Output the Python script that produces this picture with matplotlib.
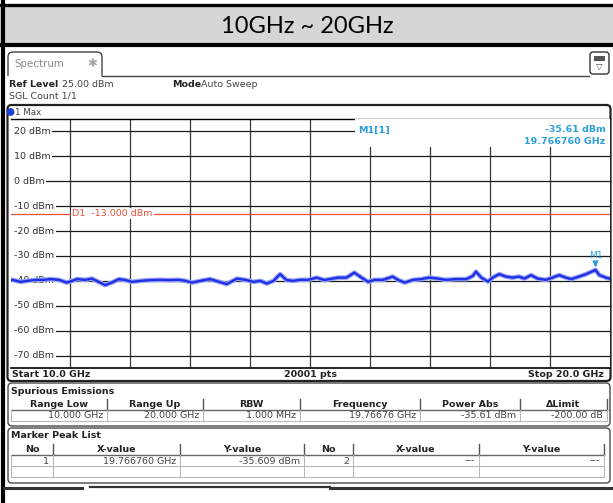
import matplotlib.pyplot as plt
from matplotlib.patches import Rectangle, FancyBboxPatch, Circle

W, H = 613, 503

# max-hold trace, 10-20 GHz sweep
freq_ghz = [
    10.00, 10.03, 10.17, 10.28, 10.42, 10.56, 10.67, 10.81, 10.94, 11.03,
    11.11, 11.25, 11.36, 11.47, 11.58, 11.69, 11.81, 11.92, 12.03, 12.17,
    12.33, 12.50, 12.67, 12.81, 12.92, 13.03, 13.17, 13.33, 13.47, 13.61,
    13.78, 13.92, 14.06, 14.17, 14.28, 14.39, 14.50, 14.61, 14.72, 14.83,
    14.97, 15.11, 15.24, 15.33, 15.47, 15.61, 15.74, 15.86, 15.97, 16.08,
    16.22, 16.38, 16.47, 16.58, 16.72, 16.86, 16.99, 17.11, 17.27, 17.44,
    17.61, 17.72, 17.77, 17.86, 17.97, 18.05, 18.16, 18.27, 18.38, 18.49,
    18.58, 18.69, 18.80, 18.94, 19.05, 19.16, 19.27, 19.36, 19.49, 19.61,
    19.766760, 19.83, 19.94, 20.00,
]
level_dbm = [
    -39.8, -39.6, -40.4, -40.0, -39.6, -39.6, -39.3, -39.6, -40.7, -40.0,
    -39.3, -39.6, -39.1, -40.4, -41.7, -40.7, -39.3, -39.7, -40.4, -40.0,
    -39.7, -39.6, -39.7, -39.6, -40.0, -40.7, -40.0, -39.3, -40.3, -41.3,
    -39.1, -39.6, -40.4, -40.0, -41.1, -40.0, -37.3, -39.7, -40.0, -39.6,
    -39.6, -38.7, -39.7, -39.3, -38.7, -38.7, -36.7, -38.7, -40.4, -39.6,
    -39.6, -38.3, -39.6, -40.7, -39.6, -39.3, -38.7, -39.0, -39.6, -39.3,
    -39.3, -38.0, -36.3, -38.7, -40.3, -38.7, -37.3, -38.3, -38.7, -38.3,
    -39.1, -37.7, -39.1, -39.6, -38.7, -37.7, -38.7, -39.3, -38.3, -37.3,
    -35.609, -37.7, -38.7, -39.1,
]

ref_level_dbm = 25.0
grid_dbm = [20, 10, 0, -10, -20, -30, -40, -50, -60, -70]
limit_dbm = -13.0
marker_freq_ghz = 19.766760
marker_level_dbm = -35.609

spur_headers = ["Range Low", "Range Up", "RBW", "Frequency", "Power Abs", "ΔLimit"]
spur_values = ["10.000 GHz", "20.000 GHz", "1.000 MHz", "19.76676 GHz", "-35.61 dBm", "-200.00 dB"]
peak_headers = ["No", "X-value", "Y-value", "No", "X-value", "Y-value"]
peak_values = ["1", "19.766760 GHz", "-35.609 dBm", "2", "---", "---"]

FS = 6.8
TXT = "#222222"
TRACE = "#1f2fe6"
MARK = "#2b9fdc"
LIMIT = "#e8503c"

fig = plt.figure(figsize=(W / 100, H / 100), dpi=100)
fig.patch.set_facecolor("white")

# page furniture in pixel coordinates (y down)
bg = fig.add_axes([0, 0, 1, 1])
bg.set_xlim(0, W)
bg.set_ylim(H, 0)
bg.axis("off")

bg.add_patch(Rectangle((0, 6), W, 37, color="#d6d6d6", lw=0))
bg.plot([0, W], [4.5, 4.5], color="black", lw=2.4)
bg.plot([0, W], [45, 45], color="black", lw=3.0)
bg.plot([2.5, 2.5], [0, H], color="black", lw=3.0)
bg.text(307, 26, "10GHz ~ 20GHz", ha="center", va="center", fontsize=17,
        family="Lato", color="black")

# tab header
bg.add_patch(FancyBboxPatch((8, 52), 94, 30, boxstyle="round,pad=0,rounding_size=5",
                            fc="white", ec="#444444", lw=1.0))
bg.add_patch(Rectangle((6, 76), 98, 10, color="white", lw=0))
bg.plot([102, 589], [75.5, 75.5], color="#444444", lw=1.0)
bg.text(14, 63.5, "Spectrum", fontsize=7.4, color="#8a8a8a", va="center")
bg.text(92, 63, "✱", fontsize=8.5, color="#a8a8a8", va="center", ha="center")
bg.add_patch(FancyBboxPatch((590, 52), 19, 22, boxstyle="round,pad=0,rounding_size=3",
                            fc="white", ec="#333333", lw=1.0))
bg.add_patch(Rectangle((594, 56), 11, 5, fc="#555555", ec="none"))
bg.text(599.5, 66.5, "▽", fontsize=6, ha="center", va="center", color="#444444")

bg.text(9, 84, "Ref Level", fontsize=FS, weight="bold", color=TXT, va="center")
bg.text(62, 84, "25.00 dBm", fontsize=FS, color="#444444", va="center")
bg.text(172, 84, "Mode", fontsize=FS, weight="bold", color=TXT, va="center")
bg.text(201, 84, "Auto Sweep", fontsize=FS, color="#444444", va="center")
bg.text(9, 96, "SGL Count 1/1", fontsize=FS, color="#444444", va="center")

# diagram frame
bg.add_patch(FancyBboxPatch((7.5, 105), 603, 276, boxstyle="round,pad=0,rounding_size=4",
                            fc="none", ec="#222222", lw=1.6))
bg.add_patch(Circle((10.5, 112), 3.2, color="#1f3fd8"))
bg.text(15, 112.5, "1 Max", fontsize=6.3, color="#444444", va="center")
bg.text(12, 374.5, "Start 10.0 GHz", fontsize=FS, weight="bold", color=TXT, va="center")
bg.text(310, 374.5, "20001 pts", fontsize=FS, weight="bold", color=TXT, va="center", ha="center")
bg.text(604, 374.5, "Stop 20.0 GHz", fontsize=FS, weight="bold", color=TXT, va="center", ha="right")


def draw_table(top, bottom, title, edges, headers, rows):
    bg.add_patch(FancyBboxPatch((8, top), 602, bottom - top, boxstyle="round,pad=0,rounding_size=4",
                                fc="white", ec="#4a4a4a", lw=1.0))
    bg.text(11, top + 8, title, fontsize=FS, weight="bold", color=TXT, va="center")
    h_top = top + 15
    h_bot = h_top + 12
    for i, lab in enumerate(headers):
        bg.text((edges[i] + edges[i + 1]) / 2, (h_top + h_bot) / 2 + 0.5, lab, fontsize=FS,
                weight="bold", color=TXT, ha="center", va="center")
    for x in edges[1:]:
        bg.plot([x, x], [h_top + 1, h_bot], color="#555555", lw=1.0)
    bg.plot([edges[0], edges[-1]], [h_bot, h_bot], color="#666666", lw=1.0)
    y = h_bot
    for vals in rows:
        y2 = y + 11
        bg.plot([edges[0], edges[-1]], [y2, y2], color="#b8b8b8", lw=0.8)
        for x in edges:
            bg.plot([x, x], [y, y2], color="#b8b8b8", lw=0.8)
        for i, v in enumerate(vals):
            bg.text(edges[i + 1] - 4, (y + y2) / 2 + 0.5, v, fontsize=FS, color="#444444",
                    ha="right", va="center")
        y = y2


draw_table(383, 426, "Spurious Emissions", [11, 107, 203, 300, 420, 520, 607],
           spur_headers, [spur_values])
draw_table(428, 483, "Marker Peak List", [11, 53, 180, 304, 353, 479, 604],
           peak_headers, [peak_values, [""] * 6])

bg.plot([4, 82], [487.5, 487.5], color="#333333", lw=2.2)
bg.plot([90, 330], [486.5, 486.5], color="#333333", lw=1.6)
bg.plot([330, W], [487.5, 487.5], color="#333333", lw=2.2)

# spectrum diagram
x0, x1, y0, y1 = 10.5, 609.5, 119, 368
ax = fig.add_axes([x0 / W, 1 - y1 / H, (x1 - x0) / W, (y1 - y0) / H])
ax.set_xlim(10, 20)
ax.set_ylim(ref_level_dbm - 100, ref_level_dbm)
ax.set_xticks([])
ax.set_yticks([])
for side in ["left", "right"]:
    ax.spines[side].set_visible(False)
ax.spines["top"].set_linewidth(1.0)
ax.spines["bottom"].set_linewidth(1.2)

for f in range(11, 20):
    ax.axvline(f, color="#3a3a3a", lw=0.9, zorder=1)
for lev in grid_dbm:
    ax.hlines(lev, 10.3, 20, color="#1a1a1a", lw=0.9, zorder=1)
    ax.text(10.06, lev, f"{lev} dBm", fontsize=FS, color="#333333", va="center", ha="left",
            zorder=2, bbox=dict(boxstyle="square,pad=0.15", fc="white", ec="none"))

ax.axhline(limit_dbm, color=LIMIT, lw=0.9, zorder=2)
ax.text(11.03, limit_dbm, f"D1  {limit_dbm:.3f} dBm", fontsize=FS, color=LIMIT, va="center",
        ha="left", zorder=3, bbox=dict(boxstyle="square,pad=0.1", fc="white", ec="none"))

ax.plot(freq_ghz, level_dbm, color="#9aa6f2", lw=3.4, zorder=4, solid_joinstyle="round")
ax.plot(freq_ghz, level_dbm, color=TRACE, lw=1.7, zorder=5, solid_joinstyle="round")

ax.annotate("", xy=(marker_freq_ghz, marker_level_dbm), xytext=(marker_freq_ghz, marker_level_dbm + 3.5),
            arrowprops=dict(arrowstyle="-|>", color=MARK, lw=1.3, mutation_scale=7), zorder=6)
ax.text(marker_freq_ghz, marker_level_dbm + 4.0, "M1", fontsize=6.6, color=MARK, ha="center",
        va="bottom", zorder=6)

# marker readout box
ax.add_patch(Rectangle((15.75, 13.8), 4.25, 11.2, fc="white", ec="none", zorder=3))
ax.text(15.8, 20.6, "M1[1]", fontsize=FS, weight="bold", color=MARK, va="center", zorder=4)
ax.text(19.93, 20.6, f"{marker_level_dbm:.2f} dBm", fontsize=FS, weight="bold", color=MARK,
        va="center", ha="right", zorder=4)
ax.text(19.93, 15.8, f"{marker_freq_ghz:.6f} GHz", fontsize=FS, weight="bold", color=MARK,
        va="center", ha="right", zorder=4)

fig.savefig("out.png", dpi=100)
